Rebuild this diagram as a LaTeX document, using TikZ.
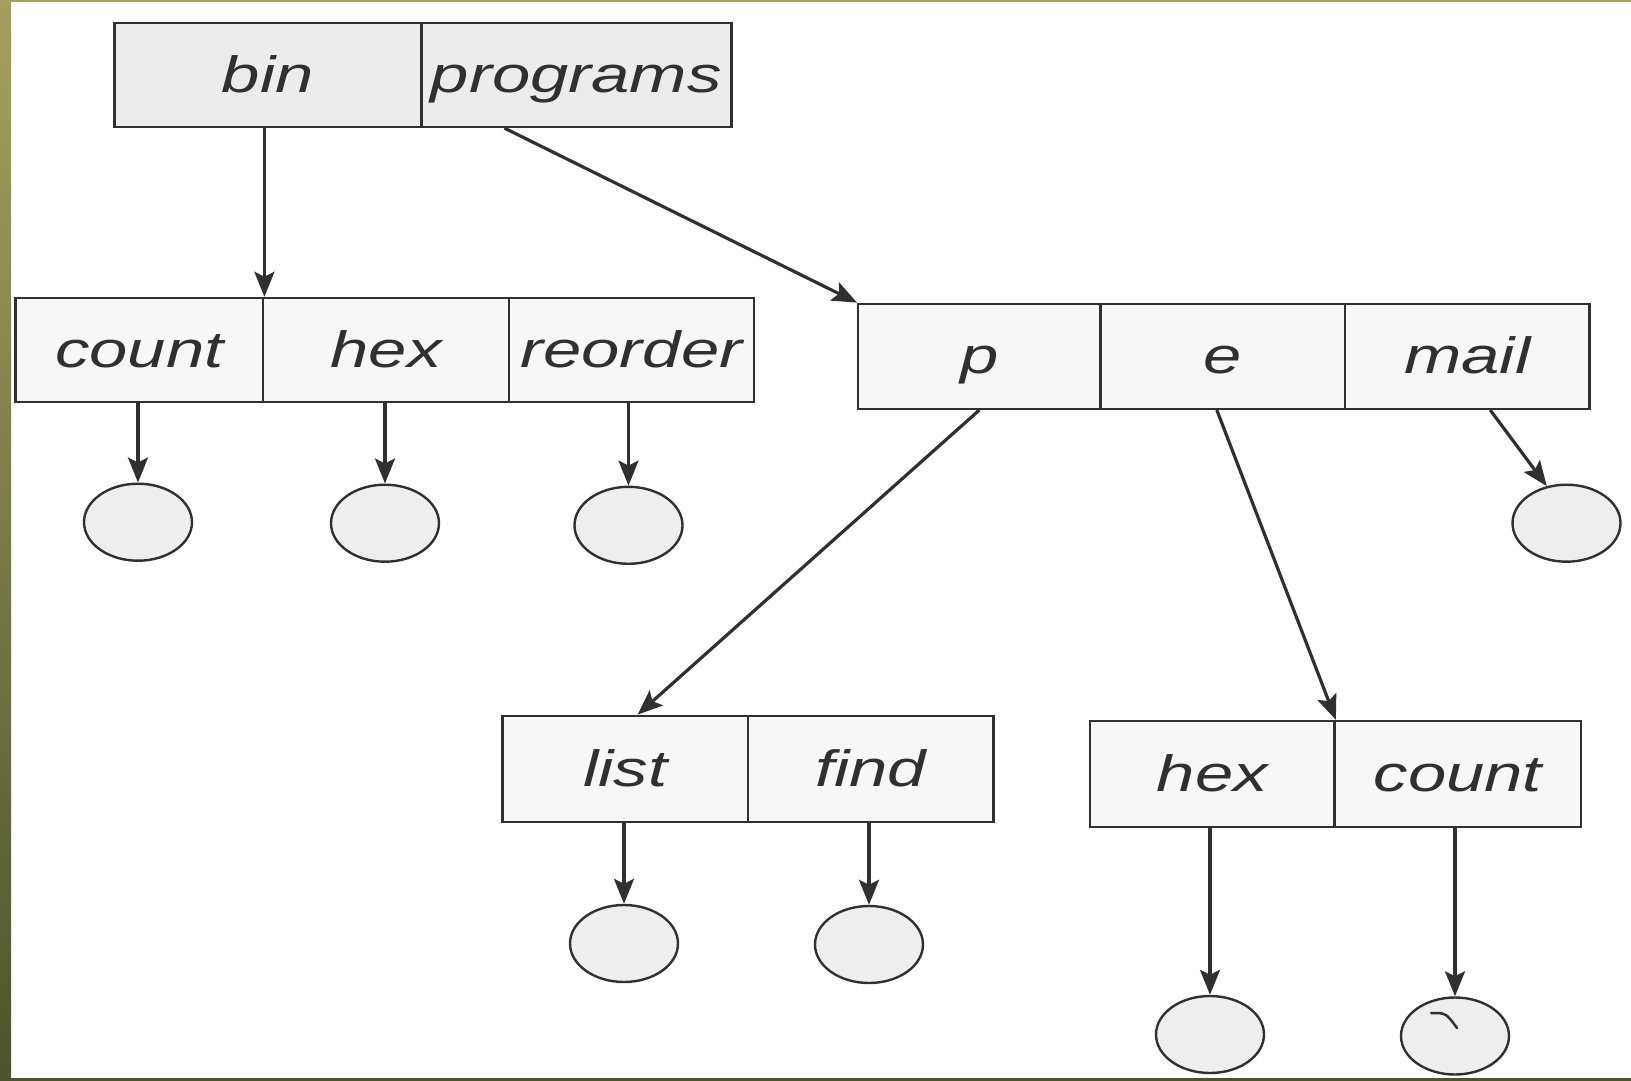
\documentclass[tikz,border=0pt]{standalone}
\usepackage{fontspec}
\setmainfont{Liberation Sans}
\newfontfamily\widelabel[FakeStretch=1.35]{Liberation Sans}
\usetikzlibrary{arrows.meta,shapes.geometric,calc}

\definecolor{olivetop}{RGB}{164,160,97}
\definecolor{olivebot}{RGB}{76,84,46}
\definecolor{inkgray}{RGB}{48,48,48}
\definecolor{cellfill}{RGB}{247,247,247}
\definecolor{headfill}{RGB}{236,236,236}
\definecolor{leaffill}{RGB}{238,238,238}

\tikzset{
  cell/.style={draw=inkgray, line width=2.4pt, fill=cellfill, inner sep=0pt,
    minimum height=104pt, text=inkgray,
    font=\widelabel\fontsize{51pt}{61pt}\selectfont\itshape,
    text height=38pt, text depth=3pt},
  leaf/.style={ellipse, draw=inkgray, line width=2.4pt, fill=leaffill,
    minimum width=108pt, minimum height=77pt, inner sep=0pt},
  link/.style={draw=inkgray, line width=3.2pt,
    -{Stealth[length=25pt,width=20pt,inset=5pt]}},
}

\begin{document}
\begin{tikzpicture}[x=1pt, y=-1pt]
  \useasboundingbox (0,0) rectangle (1631,1081);
  \fill[white] (0,0) rectangle (1631,1081);

  % olive frame strips
  \shade[top color=olivetop, bottom color=olivebot] (0,0) rectangle (11,1081);
  \fill[olivetop] (0,0) rectangle (1631,2.5);
  \fill[olivebot] (0,1078) rectangle (1631,1081);

  % root directory
  \node[cell, fill=headfill, minimum width=307pt] (bin) at (267.9,74.9) {bin};
  \node[cell, fill=headfill, minimum width=310pt] (programs) at (576.3,74.9) {programs};

  % bin directory
  \node[cell, minimum width=247.6pt] (count) at (139.4,350) {count};
  \node[cell, minimum width=245.5pt] (hex) at (386,350) {hex};
  \node[cell, minimum width=245.4pt] (reorder) at (631.4,350) {reorder};

  % programs directory
  \node[cell, minimum width=242.3pt, minimum height=105pt] (p) at (979.4,356.3) {p};
  \node[cell, minimum width=244.5pt, minimum height=105pt] (e) at (1222.8,356.3) {e};
  \node[cell, minimum width=244.4pt, minimum height=105pt] (mail) at (1467.2,356.3) {mail};

  % p directory
  \node[cell, minimum width=245.5pt, minimum height=106pt] (list) at (625.2,768.8) {list};
  \node[cell, minimum width=245.5pt, minimum height=106pt] (find) at (870.7,768.8) {find};

  % e directory
  \node[cell, minimum width=244.5pt, minimum height=106pt] (hexb) at (1212.4,774) {hex};
  \node[cell, minimum width=246.5pt, minimum height=106pt] (countb) at (1457.9,774) {count};

  % files
  \node[leaf] (countL) at (138,522.2) {};
  \node[leaf] (hexL) at (385,523.2) {};
  \node[leaf] (reorderL) at (628.5,525.3) {};
  \node[leaf] (mailL) at (1566.5,523.2) {};
  \node[leaf] (listL) at (624,943.5) {};
  \node[leaf] (findL) at (869,944.5) {};
  \node[leaf] (hexbL) at (1210,1034.5) {};
  \node[leaf] (countbL) at (1455,1036) {};

  % small stroke inside the last file
  \draw[inkgray, line width=2.5pt, line cap=round]
    (1431,1013) .. controls (1446,1013) .. (1457,1028);

  % directory links
  \draw[link] (bin.south -| count.north east) -- (count.north east);
  \draw[link] ($(programs.south west)!0.27!(programs.south east)$) -- (p.north west);
  \draw[link] (p.south) -- ($(list.north west)!0.55!(list.north east)$);
  \draw[link] ([xshift=-6pt]e.south) -- (hexb.north east);
  \draw[link] ([xshift=23pt]mail.south) -- (mailL.118);

  % file links
  \draw[link] (countL.north |- count.south) -- (countL.north);
  \draw[link] (hexL.north |- hex.south) -- (hexL.north);
  \draw[link] (reorderL.north |- reorder.south) -- (reorderL.north);
  \draw[link] (listL.north |- list.south) -- (listL.north);
  \draw[link] (findL.north |- find.south) -- (findL.north);
  \draw[link] (hexbL.north |- hexb.south) -- (hexbL.north);
  \draw[link] (countbL.north |- countb.south) -- (countbL.north);
\end{tikzpicture}
\end{document}
